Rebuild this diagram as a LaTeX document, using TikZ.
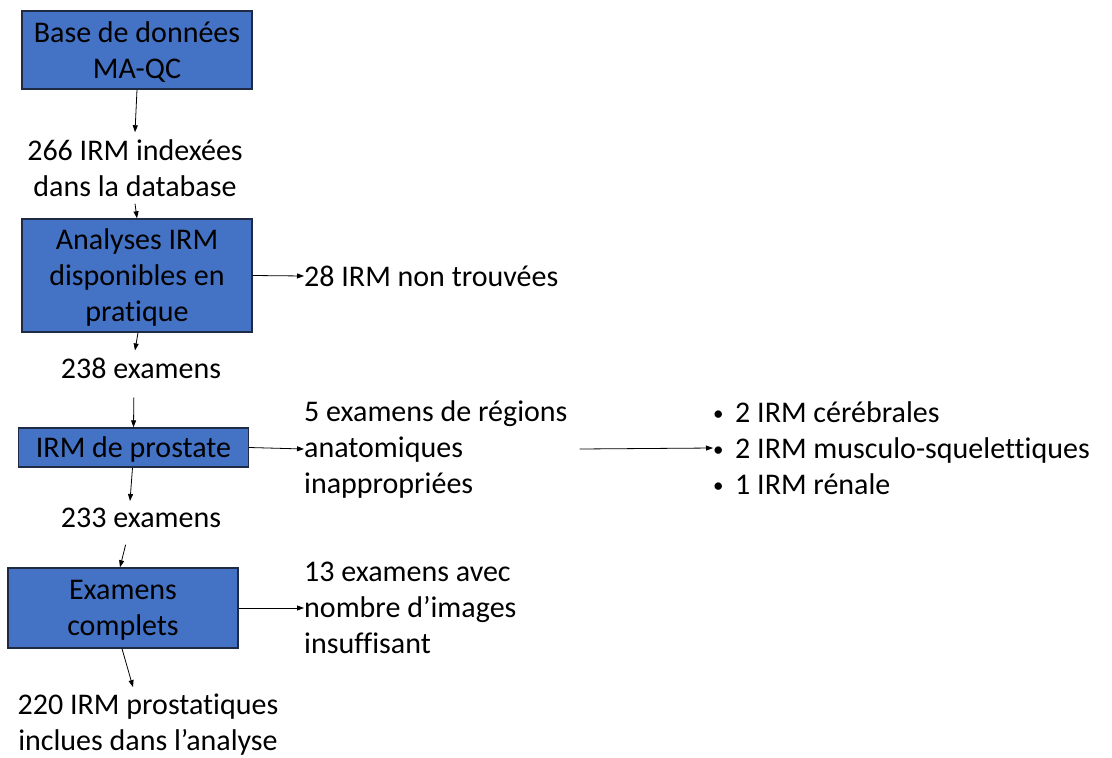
\documentclass[tikz,border=0pt]{standalone}
\usepackage{fontspec}
\setmainfont{Carlito}[Ligatures=CommonOff]
\usetikzlibrary{arrows.meta}
\definecolor{boxblue}{HTML}{4472C4}
\definecolor{boxline}{HTML}{1F2A44}
\newcommand{\itembullet}{\makebox[22pt][l]{\raisebox{2pt}{\fontsize{21}{21}\selectfont•}}}
\tikzset{
  box/.style={draw=boxline, fill=boxblue, line width=1.4pt, align=center, inner sep=0pt, minimum width=230pt, text depth=-5pt},
  lab/.style={align=center, inner sep=7pt},
  side/.style={align=left, anchor=west, inner sep=0pt},
  flow/.style={-{Triangle[length=7pt,width=5pt]}, line width=0.8pt},
}
\begin{document}
\begin{tikzpicture}[x=1pt,y=-1pt,font=\fontsize{30}{36}\selectfont]
\useasboundingbox (0,0) rectangle (1112,758);
% main column
\node[box, minimum height=78pt] (base) at (137,50) {Base de données\\MA-QC};
\node[lab] (indexees) at (135,168) {266 IRM indexées\\dans la database};
\node[box, minimum height=113pt] (analyses) at (137,275.5) {Analyses IRM\\disponibles en\\pratique};
\node[lab] (ex238) at (141,368) {238 examens};
\node[box, minimum height=39pt] (prostate) at (133.5,447.5) {IRM de prostate};
\node[lab] (ex233) at (141,518) {233 examens};
\node[box, minimum height=80pt] (complets) at (123,608) {Examens\\complets};
\node[lab] (inclues) at (148,725) {220 IRM prostatiques\\inclues dans l’analyse};
% exclusions
\node[side] (nontrouvees) at (304,276) {28 IRM non trouvées};
\node[side] (regions) at (304,449) {5 examens de régions\\anatomiques\\inappropriées};
\node[side] (types) at (713,448) {\itembullet 2 IRM cérébrales\\\itembullet 2 IRM musculo-squelettiques\\\itembullet 1 IRM rénale};
\node[side] (images) at (304,608) {13 examens avec\\nombre d’images\\insuffisant};

\draw[flow] (base.south) -- (indexees.north);
\draw[flow] (indexees.south) -- (analyses.north);
\draw[flow] (analyses.east) -- (nontrouvees.west);
\draw[flow] ([xshift=1pt]analyses.south) -- ([xshift=-6pt]ex238.north);
\draw[flow, shorten <=12pt] ([xshift=-7pt]ex238.south) -- (prostate.north);
\draw[flow] (prostate.east) -- (regions.west);
\draw[flow] ([xshift=12pt]regions.east) -- (types.west);
\draw[flow] ([xshift=-1pt]prostate.south) -- ([xshift=-11pt]ex233.north);
\draw[flow, shorten <=10pt] ([xshift=-13pt]ex233.south) -- ([xshift=-3pt]complets.north);
\draw[flow] (complets.east) -- (images.west);
\draw[flow] ([xshift=-1pt]complets.south) -- ([xshift=-15pt]inclues.north);
\end{tikzpicture}
\end{document}
